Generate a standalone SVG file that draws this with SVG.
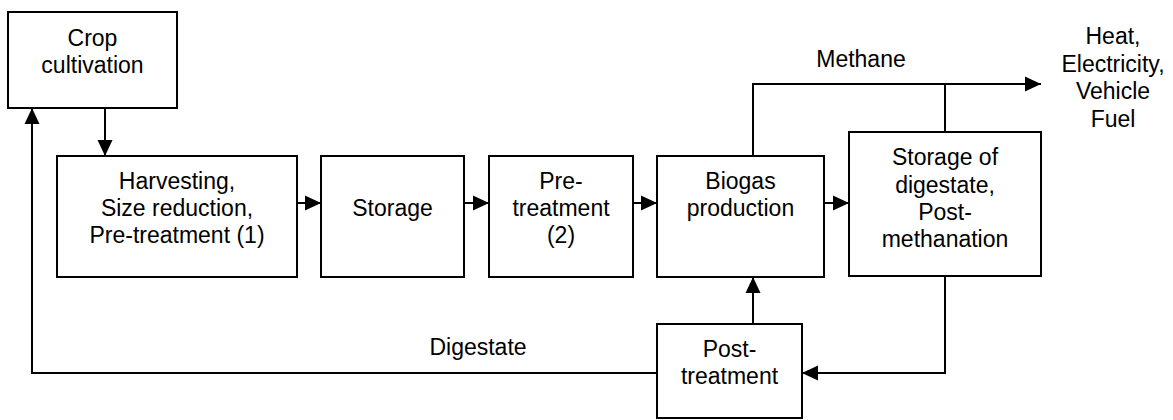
<svg xmlns="http://www.w3.org/2000/svg" width="1173" height="420" viewBox="0 0 1173 420">
<defs>
<style>
.box{fill:#fff;stroke:#000;stroke-width:2}
.ln{fill:none;stroke:#000;stroke-width:2}
text{font-family:"Liberation Sans",Arial,sans-serif;font-size:23px;fill:#000;text-anchor:middle}
</style>
<marker id="ah" markerUnits="userSpaceOnUse" markerWidth="16" markerHeight="16" viewBox="0 0 16 16" refX="16" refY="8" orient="auto">
<path d="M0,0.5 L16,8 L0,15.5 Z" fill="#000"/>
</marker>
</defs>
<rect width="1173" height="420" fill="#fff"/>
<g id="connectors">
<path class="ln" d="M105,108 V156" marker-end="url(#ah)"/>
<path class="ln" d="M297,203 H321" marker-end="url(#ah)"/>
<path class="ln" d="M464,203 H489" marker-end="url(#ah)"/>
<path class="ln" d="M633,203 H657" marker-end="url(#ah)"/>
<path class="ln" d="M824,203 H849" marker-end="url(#ah)"/>
<path class="ln" d="M753,156 V84 H1041" marker-end="url(#ah)"/>
<path class="ln" d="M945,132 V84"/>
<path class="ln" d="M753,324 V277" marker-end="url(#ah)"/>
<path class="ln" d="M945,276 V373 H802" marker-end="url(#ah)"/>
<path class="ln" d="M657,373 H32 V108" marker-end="url(#ah)"/>
<text x="861" y="67">Methane</text>
<text x="478" y="355">Digestate</text>
</g>
<g id="crop">
<rect class="box" x="8" y="12" width="169" height="96"/>
<text x="92.5" y="46">Crop</text>
<text x="92.5" y="73">cultivation</text>
</g>
<g id="harvesting">
<rect class="box" x="57" y="156" width="240" height="121"/>
<text x="177" y="189">Harvesting,</text>
<text x="177" y="216">Size reduction,</text>
<text x="177" y="243">Pre-treatment (1)</text>
</g>
<g id="storage">
<rect class="box" x="321" y="156" width="143" height="121"/>
<text x="392.5" y="216">Storage</text>
</g>
<g id="pretreatment">
<rect class="box" x="489" y="156" width="144" height="121"/>
<text x="561" y="189">Pre-</text>
<text x="561" y="216">treatment</text>
<text x="561" y="243">(2)</text>
</g>
<g id="biogas">
<rect class="box" x="657" y="156" width="167" height="121"/>
<text x="740.5" y="189">Biogas</text>
<text x="740.5" y="216">production</text>
</g>
<g id="storage-digestate">
<rect class="box" x="849" y="132" width="192" height="144"/>
<text x="945" y="165">Storage of</text>
<text x="945" y="192.5">digestate,</text>
<text x="945" y="220">Post-</text>
<text x="945" y="247">methanation</text>
</g>
<g id="posttreatment">
<rect class="box" x="657" y="324" width="145" height="94"/>
<text x="729.5" y="357">Post-</text>
<text x="729.5" y="384">treatment</text>
</g>
<g id="outputs">
<text x="1113" y="44">Heat,</text>
<text x="1113" y="72">Electricity,</text>
<text x="1113" y="99">Vehicle</text>
<text x="1113" y="127">Fuel</text>
</g>
</svg>
